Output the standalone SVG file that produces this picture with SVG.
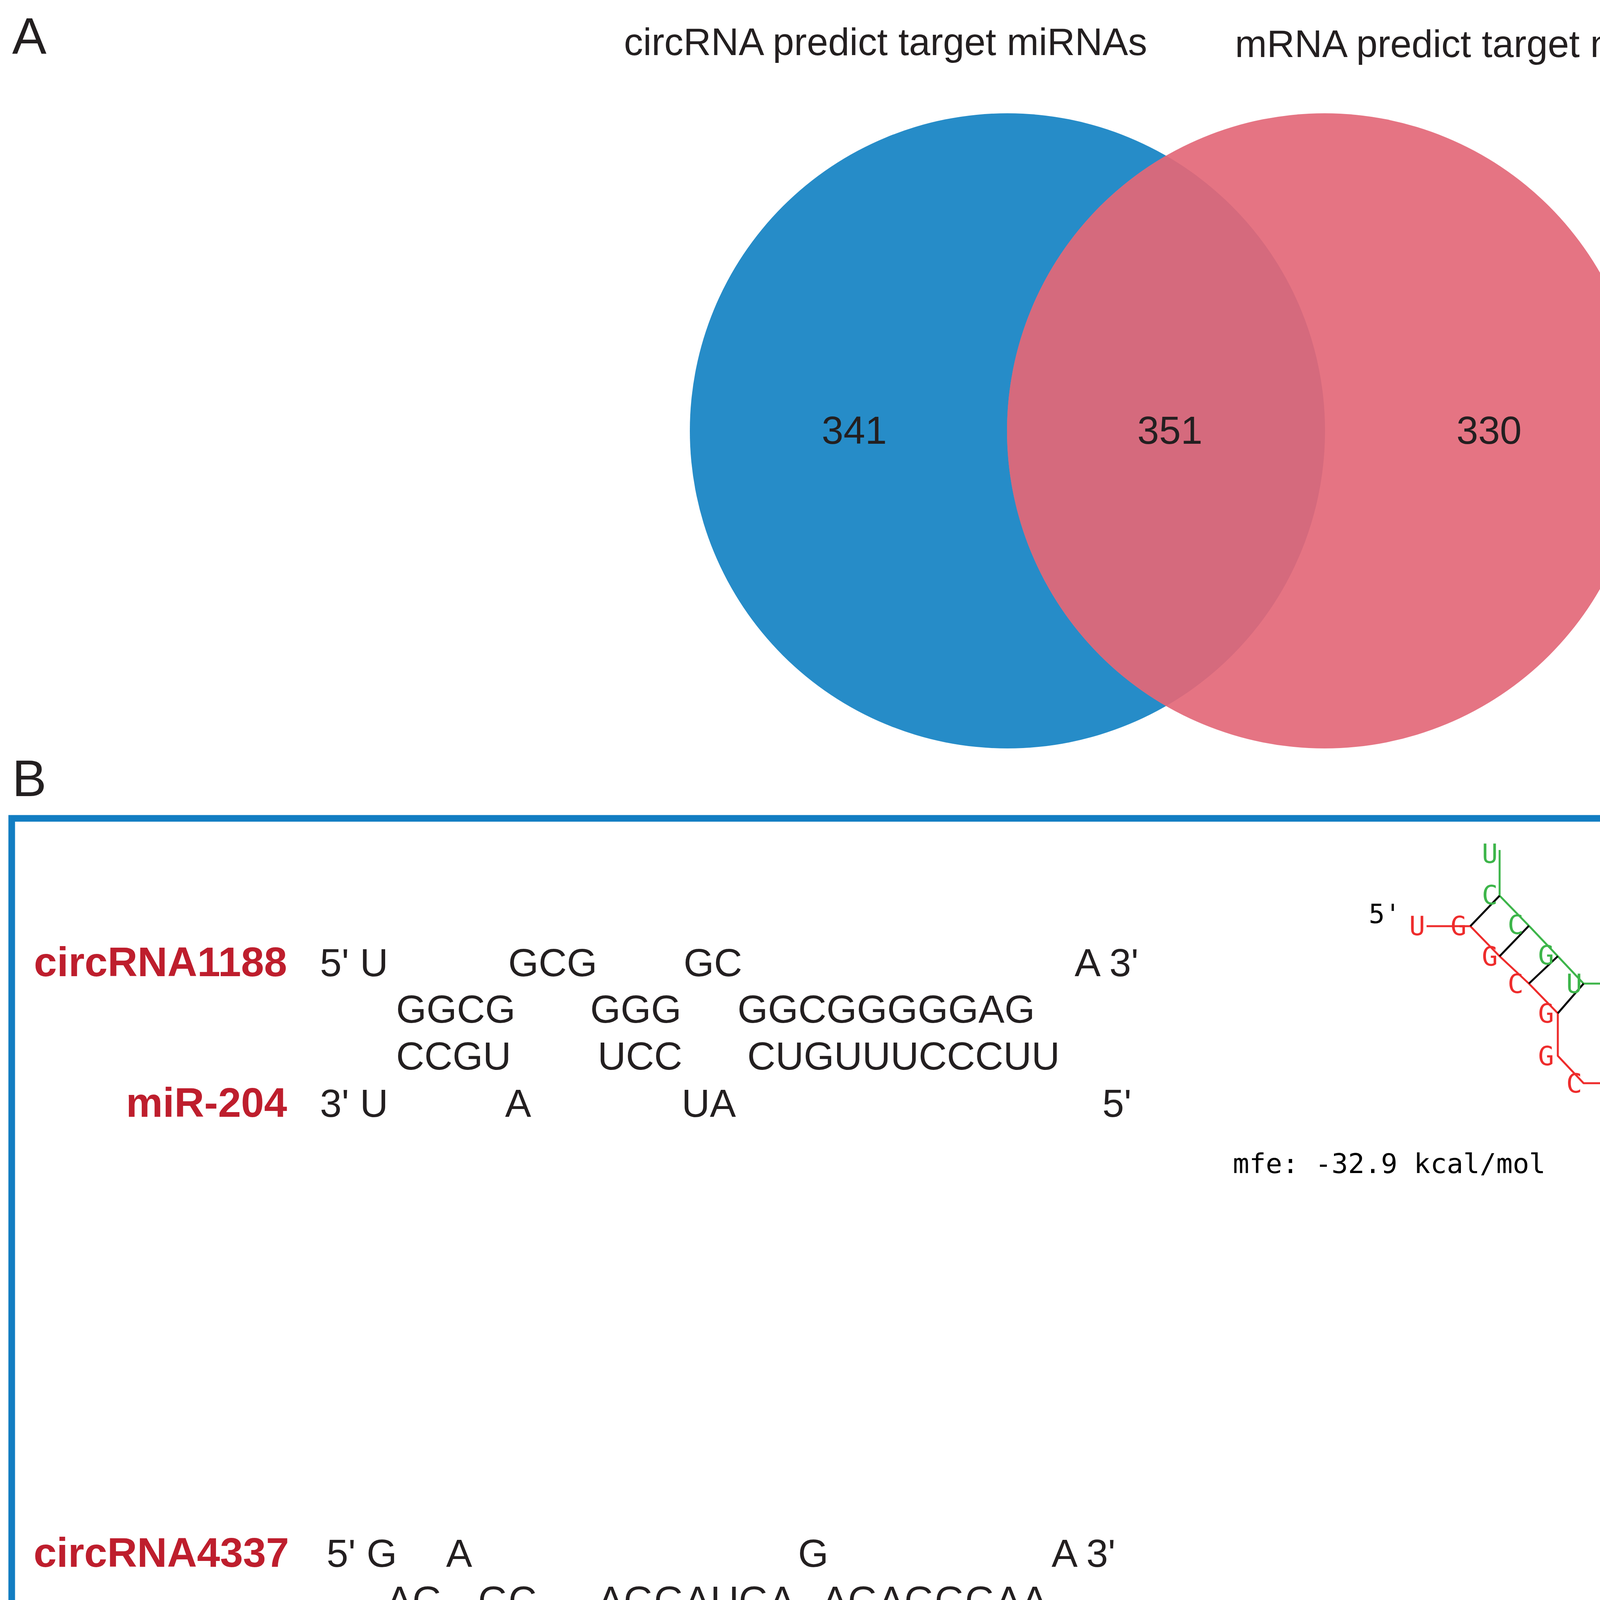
<svg xmlns="http://www.w3.org/2000/svg" width="6034" height="6700" viewBox="0 0 6034 6700">
<style>
.lbl{font-family:"Liberation Sans",Arial,sans-serif;fill:#231F20}
.pl{font-size:132px}
.vt{font-size:98px;text-anchor:middle}
.vn{font-size:100px;text-anchor:middle}
.seq{font-family:"Liberation Sans",Arial,sans-serif;font-size:100px;fill:#231F20}
.nm{font-family:"Liberation Sans",Arial,sans-serif;font-size:106px;font-weight:bold;fill:#BE1E2D;text-anchor:end}
.mono{font-family:"DejaVu Sans Mono","Liberation Mono",monospace;fill:#000}
.s1{font-size:68px;text-anchor:middle}
.s2{font-size:62px;text-anchor:middle}
.gr{fill:#3DB54A}
.rd{fill:#EE2C2C}
.bg{fill:none;stroke:#3DB54A;stroke-width:5;stroke-linejoin:round}
.br{fill:none;stroke:#EE2C2C;stroke-width:5;stroke-linejoin:round}
.bp{stroke:#000;stroke-width:5}
</style>
<rect x="0" y="0" width="6034" height="6700" fill="#FFFFFF"/>

<g id="panelA">
<text class="lbl pl" x="31" y="138">A</text>
<g id="venn-circRNA">
<circle cx="2579" cy="1103" r="813" fill="#268CC8"/>
</g>
<g id="venn-mRNA">
<circle cx="3391" cy="1103" r="813" fill="#E57483"/>
</g>
<g id="venn-overlap">
<path d="M2985 398.6 A813 813 0 0 1 2985 1807.4 A813 813 0 0 1 2985 398.6 Z" fill="#D56A7D"/>
</g>
<text class="lbl vt" x="2267" y="141">circRNA predict target miRNAs</text>
<text class="lbl vt" x="3796" y="146">mRNA predict target miRNAs</text>
<text class="lbl vn" x="2187" y="1136">341</text>
<text class="lbl vn" x="2995" y="1136">351</text>
<text class="lbl vn" x="3812" y="1136">330</text>
</g>

<g id="panelB">
<text class="lbl pl" x="31" y="2038">B</text>
<rect x="30" y="2095" width="5976" height="4560" fill="none" stroke="#127DC2" stroke-width="17"/>

<g id="align1">
<text class="nm" x="735" y="2499">circRNA1188</text>
<text class="nm" x="735" y="2859">miR-204</text>
<text class="seq" x="819" y="2499">5' U</text>
<text class="seq" x="1301" y="2499">GCG</text>
<text class="seq" x="1750" y="2499">GC</text>
<text class="seq" x="2751" y="2499">A 3'</text>
<text class="seq" x="1014" y="2618">GGCG</text>
<text class="seq" x="1511" y="2618">GGG</text>
<text class="seq" x="1888" y="2618">GGCGGGGGAG</text>
<text class="seq" x="1014" y="2738">CCGU</text>
<text class="seq" x="1530" y="2738">UCC</text>
<text class="seq" x="1913" y="2738">CUGUUUCCCUU</text>
<text class="seq" x="819" y="2859">3' U</text>
<text class="seq" x="1293" y="2859">A</text>
<text class="seq" x="1745" y="2859">UA</text>
<text class="seq" x="2822" y="2859">5'</text>
</g>

<g id="align2">
<text class="nm" x="740" y="4011">circRNA4337</text>
<text class="nm" x="742" y="4372">miR-204</text>
<text class="seq" x="836" y="4011">5' G</text>
<text class="seq" x="1142" y="4011">A</text>
<text class="seq" x="2043" y="4011">G</text>
<text class="seq" x="2692" y="4011">A 3'</text>
<text class="seq" x="989" y="4131">AG</text>
<text class="seq" x="1224" y="4131">GC</text>
<text class="seq" x="1530" y="4131">AGGAUGA</text>
<text class="seq" x="2104" y="4131">AGAGGGAA</text>
<text class="seq" x="1004" y="4252">UC</text>
<text class="seq" x="1230" y="4252">CG</text>
<text class="seq" x="1517" y="4252">UCCUACU</text>
<text class="seq" x="2100" y="4252">UUUCCCUU</text>
<text class="seq" x="836" y="4372">3'</text>
<text class="seq" x="1381" y="4372">UA</text>
<text class="seq" x="2018" y="4372">G</text>
<text class="seq" x="2787" y="4372">5'</text>
</g>

<g id="align3">
<text class="nm" x="735" y="5825">ciRNA781</text>
<text class="nm" x="742" y="6178">miR-204</text>
<text class="seq" x="855" y="5825">5'</text>
<text class="seq" x="943" y="5825">A</text>
<text class="seq" x="1419" y="5825">A</text>
<text class="seq" x="1808" y="5825">A</text>
<text class="seq" x="2596" y="5825">U 3'</text>
<text class="seq" x="1033" y="5938">AGGUA</text>
<text class="seq" x="1479" y="5938">GGGG</text>
<text class="seq" x="1875" y="5938">GACAAAGGGG</text>
<text class="seq" x="1048" y="6058">UCCGU</text>
<text class="seq" x="1496" y="6058">UCCU</text>
<text class="seq" x="1869" y="6058">CUGUUUCCCU</text>
<text class="seq" x="826" y="6178">3'</text>
<text class="seq" x="1419" y="6178">A</text>
<text class="seq" x="1808" y="6178">A</text>
<text class="seq" x="2596" y="6178">U 5'</text>
</g>

<g id="struct1">
<g id="struct1-connectors">
<polyline class="bg" points="3839,2176 3839,2293 3914,2370 3988,2448 4054,2518 4162,2518 4242,2597 4454,2597 4527,2518 4640,2518 4709,2597 5769,2597"/>
<polyline class="br" points="3652,2371 3764,2371 3839,2448 3914,2518 3988,2594 3988,2703 4054,2773 4162,2773 4242,2703 4454,2703 4527,2773 4640,2773 4709,2703 5769,2703 5812,2748"/>
<line class="bp" x1="3839" y1="2293" x2="3764" y2="2371"/>
<line class="bp" x1="3914" y1="2370" x2="3839" y2="2448"/>
<line class="bp" x1="3988" y1="2448" x2="3914" y2="2518"/>
<line class="bp" x1="4054" y1="2518" x2="3988" y2="2594"/>
<line class="bp" x1="4242" y1="2597" x2="4242" y2="2703"/>
<line class="bp" x1="4348" y1="2597" x2="4348" y2="2703"/>
<line class="bp" x1="4454" y1="2597" x2="4454" y2="2703"/>
<line class="bp" x1="4709" y1="2597" x2="4709" y2="2703"/>
<line class="bp" x1="4814" y1="2597" x2="4814" y2="2703"/>
<line class="bp" x1="4920" y1="2597" x2="4920" y2="2703"/>
<line class="bp" x1="5026" y1="2597" x2="5026" y2="2703"/>
<line class="bp" x1="5132" y1="2597" x2="5132" y2="2703"/>
<line class="bp" x1="5238" y1="2597" x2="5238" y2="2703"/>
<line class="bp" x1="5345" y1="2597" x2="5345" y2="2703"/>
<line class="bp" x1="5451" y1="2597" x2="5451" y2="2703"/>
<line class="bp" x1="5557" y1="2597" x2="5557" y2="2703"/>
<line class="bp" x1="5663" y1="2597" x2="5663" y2="2703"/>
<line class="bp" x1="5769" y1="2597" x2="5769" y2="2703"/>
</g>
<g class="mono s1 gr">
<text x="3814" y="2209">U</text><text x="3814" y="2315">C</text><text x="3880" y="2391">C</text><text x="3958" y="2469">G</text><text x="4030" y="2542">U</text><text x="4137" y="2542">A</text><text x="4212" y="2618">U</text><text x="4320" y="2618">C</text><text x="4428" y="2618">C</text><text x="4502" y="2542">U</text><text x="4610" y="2542">A</text><text x="4676" y="2618">C</text><text x="4786" y="2618">U</text><text x="4892" y="2618">G</text><text x="4998" y="2618">U</text><text x="5104" y="2618">U</text><text x="5210" y="2618">U</text><text x="5317" y="2618">C</text><text x="5423" y="2618">C</text><text x="5529" y="2618">C</text><text x="5635" y="2618">U</text><text x="5741" y="2618">U</text>
</g>
<g class="mono s1 rd">
<text x="3628" y="2394">U</text><text x="3734" y="2394">G</text><text x="3814" y="2472">G</text><text x="3880" y="2542">C</text><text x="3958" y="2618">G</text><text x="3958" y="2727">G</text><text x="4030" y="2797">C</text><text x="4137" y="2797">G</text><text x="4212" y="2727">G</text><text x="4320" y="2727">G</text><text x="4428" y="2727">G</text><text x="4502" y="2797">G</text><text x="4610" y="2797">C</text><text x="4676" y="2727">G</text><text x="4786" y="2727">G</text><text x="4892" y="2727">C</text><text x="4998" y="2727">G</text><text x="5104" y="2727">G</text><text x="5210" y="2727">G</text><text x="5317" y="2727">G</text><text x="5423" y="2727">G</text><text x="5529" y="2727">G</text><text x="5635" y="2727">A</text><text x="5741" y="2727">G</text><text x="5832" y="2778">A</text>
</g>
<text class="mono s1" x="3545" y="2363">5'</text>
<text class="mono" font-size="70" x="3156" y="3003">mfe: -32.9 kcal/mol</text>
</g>

<g id="struct2">
<g id="struct2-connectors">
<polyline class="bg" points="4423,3287 4504,3354 4595,3387 4694,3391 4777,3352 4863,3398 4858,3498 4904,3582 4949,3674 4995,3760 5042,3846 5088,3931 5133,4022 5213,4071 5213,4174 5256,4260 5302,4345 5351,4437 5389,4522 5436,4607 5481,4699 5527,4785"/>
<polyline class="br" points="4265,3366 4366,3366 4442,3432 4490,3501 4589,3485 4688,3493 4772,3543 4820,3628 4868,3714 4911,3802 4957,3892 5002,3976 5048,4067 5042,4169 5127,4220 5166,4305 5213,4390 5259,4483 5305,4568 5351,4654 5397,4745 5442,4831 5437,4931"/>
<line class="bp" x1="4423" y1="3287" x2="4366" y2="3366"/>
<line class="bp" x1="4504" y1="3354" x2="4442" y2="3432"/>
<line class="bp" x1="4595" y1="3387" x2="4589" y2="3485"/>
<line class="bp" x1="4694" y1="3391" x2="4688" y2="3493"/>
<line class="bp" x1="4858" y1="3498" x2="4772" y2="3543"/>
<line class="bp" x1="4904" y1="3582" x2="4820" y2="3628"/>
<line class="bp" x1="4949" y1="3674" x2="4868" y2="3714"/>
<line class="bp" x1="4995" y1="3760" x2="4911" y2="3802"/>
<line class="bp" x1="5042" y1="3846" x2="4957" y2="3892"/>
<line class="bp" x1="5088" y1="3931" x2="5002" y2="3976"/>
<line class="bp" x1="5133" y1="4022" x2="5048" y2="4067"/>
<line class="bp" x1="5213" y1="4174" x2="5127" y2="4220"/>
<line class="bp" x1="5256" y1="4260" x2="5166" y2="4305"/>
<line class="bp" x1="5302" y1="4345" x2="5213" y2="4390"/>
<line class="bp" x1="5351" y1="4437" x2="5259" y2="4483"/>
<line class="bp" x1="5389" y1="4522" x2="5305" y2="4568"/>
<line class="bp" x1="5436" y1="4607" x2="5351" y2="4654"/>
<line class="bp" x1="5481" y1="4699" x2="5397" y2="4745"/>
<line class="bp" x1="5527" y1="4785" x2="5442" y2="4831"/>
</g>
<g class="mono s2 gr">
<text x="4399" y="3302">U</text><text x="4476" y="3368">C</text><text x="4569" y="3403">C</text><text x="4667" y="3411">G</text><text x="4753" y="3363">U</text><text x="4839" y="3417">A</text><text x="4834" y="3512">U</text><text x="4877" y="3601">C</text><text x="4925" y="3687">C</text><text x="4968" y="3776">U</text><text x="5016" y="3862">A</text><text x="5064" y="3948">C</text><text x="5107" y="4035">U</text><text x="5185" y="4092">G</text><text x="5185" y="4191">U</text><text x="5232" y="4274">U</text><text x="5279" y="4360">U</text><text x="5325" y="4456">C</text><text x="5365" y="4539">C</text><text x="5411" y="4625">C</text><text x="5456" y="4714">U</text><text x="5502" y="4800">U</text>
</g>
<g class="mono s2 rd">
<text x="4241" y="3386">G</text><text x="4340" y="3386">A</text><text x="4418" y="3452">G</text><text x="4471" y="3532">A</text><text x="4564" y="3503">G</text><text x="4662" y="3509">C</text><text x="4746" y="3566">A</text><text x="4791" y="3647">G</text><text x="4839" y="3733">G</text><text x="4885" y="3828">A</text><text x="4930" y="3908">U</text><text x="4976" y="3994">G</text><text x="5023" y="4089">A</text><text x="5015" y="4187">G</text><text x="5101" y="4245">A</text><text x="5140" y="4325">G</text><text x="5187" y="4411">A</text><text x="5233" y="4501">G</text><text x="5279" y="4587">G</text><text x="5325" y="4673">G</text><text x="5371" y="4768">A</text><text x="5417" y="4851">A</text><text x="5410" y="4950">A</text>
</g>
<text class="mono s2" x="4150" y="3360">5'</text>
<text class="mono" font-size="64" x="3805" y="4906">mfe: -31.1 kcal/mol</text>
</g>

<g id="struct3">
<g id="struct3-connectors">
<polyline class="bg" points="4276,5184 4355,5242 4432,5307 4509,5365 4580,5429 4672,5438 4716,5533 4787,5592 4864,5650 4941,5715 5035,5726 5070,5817 5147,5876 5226,5939 5297,5999 5374,6057 5451,6122 5523,6179 5600,6237 5677,6302 5754,6359 5852,6359"/>
<polyline class="br" points="4120,5262 4219,5262 4296,5319 4367,5384 4445,5442 4522,5501 4548,5585 4652,5605 4729,5669 4806,5727 4877,5785 4912,5876 5010,5895 5084,5952 5161,6011 5238,6075 5316,6134 5388,6193 5463,6257 5540,6314 5617,6378 5690,6436 5705,6518"/>
<line class="bp" x1="4276" y1="5184" x2="4219" y2="5262"/>
<line class="bp" x1="4355" y1="5242" x2="4296" y2="5319"/>
<line class="bp" x1="4432" y1="5307" x2="4367" y2="5384"/>
<line class="bp" x1="4509" y1="5365" x2="4445" y2="5442"/>
<line class="bp" x1="4580" y1="5429" x2="4522" y2="5501"/>
<line class="bp" x1="4716" y1="5533" x2="4652" y2="5605"/>
<line class="bp" x1="4787" y1="5592" x2="4729" y2="5669"/>
<line class="bp" x1="4864" y1="5650" x2="4806" y2="5727"/>
<line class="bp" x1="4941" y1="5715" x2="4877" y2="5785"/>
<line class="bp" x1="5070" y1="5817" x2="5010" y2="5895"/>
<line class="bp" x1="5147" y1="5876" x2="5084" y2="5952"/>
<line class="bp" x1="5226" y1="5939" x2="5161" y2="6011"/>
<line class="bp" x1="5297" y1="5999" x2="5238" y2="6075"/>
<line class="bp" x1="5374" y1="6057" x2="5316" y2="6134"/>
<line class="bp" x1="5451" y1="6122" x2="5388" y2="6193"/>
<line class="bp" x1="5523" y1="6179" x2="5463" y2="6257"/>
<line class="bp" x1="5600" y1="6237" x2="5540" y2="6314"/>
<line class="bp" x1="5677" y1="6302" x2="5617" y2="6378"/>
<line class="bp" x1="5754" y1="6359" x2="5690" y2="6436"/>
</g>
<g class="mono s2 gr">
<text x="4252" y="5199">U</text><text x="4327" y="5260">C</text><text x="4406" y="5324">C</text><text x="4483" y="5382">G</text><text x="4555" y="5446">U</text><text x="4650" y="5461">A</text><text x="4688" y="5551">U</text><text x="4760" y="5609">C</text><text x="4837" y="5668">C</text><text x="4917" y="5731">U</text><text x="5010" y="5746">A</text><text x="5046" y="5832">C</text><text x="5123" y="5893">U</text><text x="5200" y="5957">G</text><text x="5274" y="6014">U</text><text x="5349" y="6075">U</text><text x="5426" y="6135">U</text><text x="5502" y="6196">C</text><text x="5575" y="6253">C</text><text x="5652" y="6317">C</text><text x="5729" y="6378">U</text><text x="5831" y="6378">U</text>
</g>
<g class="mono s2 rd">
<text x="4096" y="5283">A</text><text x="4193" y="5283">A</text><text x="4269" y="5339">G</text><text x="4341" y="5403">G</text><text x="4419" y="5461">U</text><text x="4496" y="5525">A</text><text x="4529" y="5612">A</text><text x="4623" y="5625">G</text><text x="4703" y="5688">G</text><text x="4780" y="5747">G</text><text x="4853" y="5805">G</text><text x="4891" y="5896">A</text><text x="4986" y="5912">G</text><text x="5058" y="5976">A</text><text x="5133" y="6030">C</text><text x="5214" y="6097">A</text><text x="5291" y="6155">A</text><text x="5361" y="6212">A</text><text x="5438" y="6276">G</text><text x="5516" y="6333">G</text><text x="5593" y="6397">G</text><text x="5663" y="6454">G</text><text x="5690" y="6547">U</text>
</g>
<text class="mono s2" x="4006" y="5255">5'</text>
<text class="mono" font-size="64" x="3666" y="6504">mfe: -32.8 kcal/mol</text>
</g>
</g>
</svg>
